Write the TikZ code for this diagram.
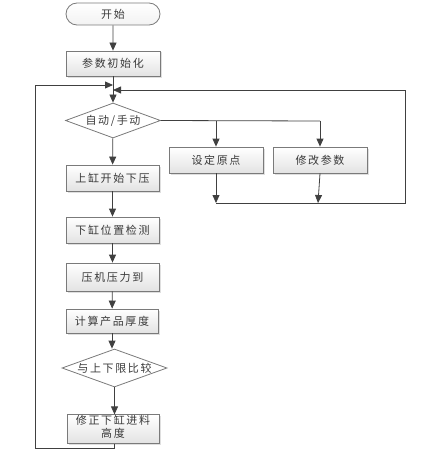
\documentclass[tikz,border=0pt]{standalone}
\usepackage{fontspec}
\newfontfamily\cjk[LetterSpace=15]{Noto Sans CJK SC}
\usetikzlibrary{arrows.meta,shapes.geometric,shapes.misc,shadows}
\definecolor{linec}{HTML}{404040}
\definecolor{boxc}{HTML}{7A7A7A}
\definecolor{txtc}{HTML}{3A3A3A}
\tikzset{
  base/.style={font=\cjk\fontsize{11}{13}\selectfont, text=txtc, inner sep=0pt, align=center},
  procbox/.style={base, rectangle, draw=boxc, line width=0.8pt, top color=white, bottom color=gray!22,
     drop shadow={shadow xshift=1.5pt, shadow yshift=-1.5pt, opacity=0.25}},
  decision/.style={base, diamond, draw=boxc, line width=0.8pt, fill=white, aspect=2.7},
  term/.style={base, rounded rectangle, draw=boxc, line width=0.8pt, top color=white, bottom color=gray!10},
  conn/.style={draw=linec, line width=0.8pt},
  arr/.style={conn, -{Triangle[length=8pt,width=7pt]}},
}
\begin{document}
\begin{tikzpicture}[x=1pt,y=-1pt]
\useasboundingbox (0,0) rectangle (441,460);
\node[term, minimum width=94pt, minimum height=22pt] (start) at (113,14) {开始};
\node[procbox, minimum width=94pt, minimum height=25pt] (init) at (113,63.5) {参数初始化};
\node[decision, minimum width=95pt, minimum height=35pt] (mode) at (113,120.5) {自动/手动};
\node[procbox, minimum width=94pt, minimum height=26pt] (set) at (216,160) {设定原点};
\node[procbox, minimum width=94pt, minimum height=26pt] (mod) at (320,160) {修改参数};
\node[procbox, minimum width=93pt, minimum height=26pt] (b1) at (112.5,178) {上缸开始下压};
\node[procbox, minimum width=93pt, minimum height=26pt] (b2) at (112.5,230) {下缸位置检测};
\node[procbox, minimum width=93pt, minimum height=28pt] (b3) at (112.5,277) {压机压力到};
\node[procbox, minimum width=92pt, minimum height=24pt] (b4) at (112,321) {计算产品厚度};
\node[decision, minimum width=105pt, minimum height=38pt] (cmp) at (114.5,368) {与上下限比较};
\node[procbox, minimum width=92pt, minimum height=26pt, text depth=6pt] (fix) at (113,429) {修正下缸进料\\高度};
% junction coordinates
\coordinate (j1) at (113,85);
\coordinate (j2) at (113,90);
\coordinate (bs) at (216,121);
\coordinate (bm) at (320,121);
\coordinate (es) at (216,203);
\coordinate (em) at (318,203);
\coordinate (rr) at (405,203);
\coordinate (rt) at (405,90);
\coordinate (lb) at (35,448);
\coordinate (lt) at (35,85);
% main flow
\draw[arr] (start) -- (init);
\draw[arr] (init) -- (mode);
\draw[arr] (mode) -- (b1);
\draw[arr] (b1) -- (b2);
\draw[arr] (b2) -- (b3);
\draw[arr] (b3) -- (b4);
\draw[arr] (b4.south) -- (b4.south |- cmp.north);
\draw[arr] (cmp.south) -- (cmp.south |- fix.north);
% branch
\draw[conn] (mode.east) -- (bm);
\draw[arr] (bs) -- (set);
\draw[arr] (bm) -- (mod);
\draw[arr] (set) -- (es);
\draw[arr] (mod.south) -- (em);
\draw[conn] (es) -- (rr) -- (rt);
\draw[arr] (rt) -- (j2);
% left loop
\draw[conn] (fix.south -| cmp.south) -- (cmp.south |- lb) -- (lb) -- (lt);
\draw[arr] (lt) -- (j1);
\end{tikzpicture}
\end{document}
